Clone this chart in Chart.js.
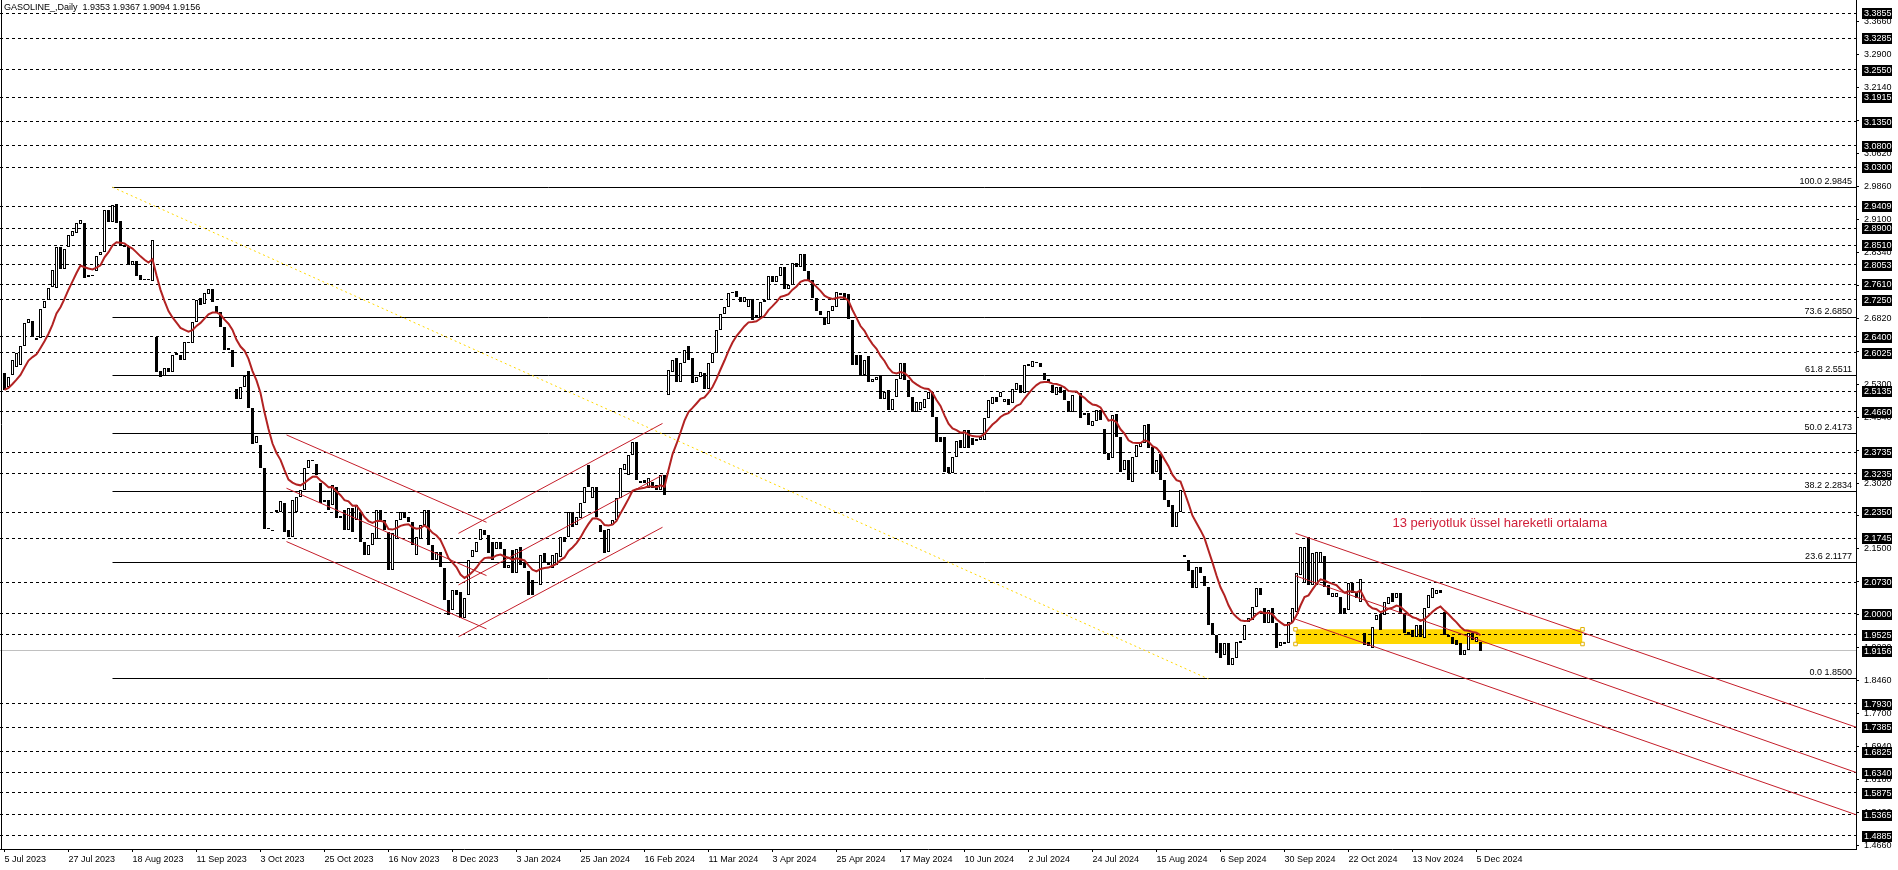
<!DOCTYPE html>
<html>
<head>
<meta charset="utf-8">
<title>GASOLINE_ Daily</title>
<script src="https://cdn.jsdelivr.net/npm/chart.js@4/dist/chart.umd.min.js"></script>
<style>
  html, body { margin: 0; padding: 0; background: #fff; }
  canvas { display: block; }
</style>
</head>
<body>
<canvas id="chart" width="1898" height="870"></canvas>
<script>
// daily bars, 5 Jul 2023 .. 6 Dec 2024 (bar 0 = 5 Jul 2023)
var opens = [
  2.555, 2.524, 2.551, 2.570, 2.574, 2.618, 2.672, 2.676, 2.633, 2.636,
  2.705, 2.724, 2.755, 2.751, 2.846, 2.796, 2.847, 2.873, 2.878, 2.900,
  2.903, 2.782, 2.779, 2.791, 2.827, 2.836, 2.932, 2.905, 2.946, 2.906,
  2.851, 2.849, 2.805, 2.814, 2.782, 2.772, 2.770, 2.769, 2.640, 2.561,
  2.550, 2.568, 2.559, 2.597, 2.597, 2.586, 2.626, 2.624, 2.674, 2.728,
  2.714, 2.738, 2.749, 2.710, 2.697, 2.663, 2.609, 2.610, 2.520, 2.495,
  2.523, 2.560, 2.474, 2.395, 2.390, 2.336, 2.198, 2.193, 2.236, 2.236,
  2.255, 2.194, 2.178, 2.236, 2.270, 2.286, 2.336, 2.352, 2.347, 2.301,
  2.262, 2.263, 2.251, 2.294, 2.226, 2.240, 2.194, 2.244, 2.217, 2.236,
  2.167, 2.136, 2.159, 2.174, 2.240, 2.217, 2.190, 2.101, 2.174, 2.217,
  2.236, 2.224, 2.213, 2.136, 2.174, 2.205, 2.240, 2.159, 2.124, 2.144,
  2.105, 2.032, 2.009, 2.055, 2.051, 1.990, 2.044, 2.132, 2.144, 2.170,
  2.194, 2.182, 2.167, 2.151, 2.167, 2.151, 2.107, 2.147, 2.094, 2.155,
  2.117, 2.098, 2.078, 2.071, 2.067, 2.140, 2.119, 2.105, 2.113, 2.132,
  2.178, 2.178, 2.236, 2.205, 2.221, 2.255, 2.344, 2.267, 2.294, 2.205,
  2.194, 2.143, 2.205, 2.217, 2.267, 2.332, 2.320, 2.367, 2.397, 2.306,
  2.309, 2.290, 2.305, 2.297, 2.286, 2.320, 2.505, 2.559, 2.590, 2.536,
  2.578, 2.617, 2.590, 2.536, 2.547, 2.555, 2.520, 2.578, 2.601, 2.655,
  2.693, 2.709, 2.743, 2.745, 2.732, 2.720, 2.709, 2.726, 2.690, 2.686,
  2.720, 2.724, 2.780, 2.765, 2.780, 2.800, 2.750, 2.760, 2.810, 2.800,
  2.830, 2.790, 2.770, 2.728, 2.700, 2.682, 2.670, 2.700, 2.709, 2.735,
  2.740, 2.738, 2.678, 2.597, 2.597, 2.551, 2.594, 2.536, 2.540, 2.551,
  2.497, 2.517, 2.470, 2.501, 2.541, 2.578, 2.540, 2.501, 2.467, 2.470,
  2.474, 2.497, 2.513, 2.455, 2.409, 2.409, 2.340, 2.325, 2.363, 2.401,
  2.382, 2.424, 2.405, 2.400, 2.401, 2.401, 2.451, 2.485, 2.501, 2.501,
  2.490, 2.497, 2.486, 2.517, 2.528, 2.509, 2.572, 2.570, 2.580, 2.580,
  2.555, 2.541, 2.528, 2.505, 2.524, 2.517, 2.492, 2.467, 2.509, 2.509,
  2.459, 2.464, 2.434, 2.444, 2.470, 2.426, 2.372, 2.359, 2.461, 2.409,
  2.331, 2.355, 2.305, 2.363, 2.386, 2.394, 2.438, 2.386, 2.328, 2.370,
  2.309, 2.263, 2.251, 2.201, 2.236, 2.136, 2.124, 2.101, 2.059, 2.109,
  2.087, 2.063, 1.978, 1.951, 1.934, 1.905, 1.932, 1.882, 1.898, 1.934,
  1.940, 1.982, 1.986, 2.017, 2.059, 2.013, 1.978, 2.013, 1.978, 1.925,
  1.931, 1.932, 1.982, 2.005, 2.090, 2.071, 2.178, 2.067, 2.067, 2.117,
  2.134, 2.067, 2.038, 2.040, 2.040, 2.013, 2.009, 2.072, 2.051, 2.028,
  1.955, 1.936, 1.921, 1.986, 1.999, 1.998, 2.024, 2.048, 2.036, 2.048,
  2.001, 1.959, 1.963, 1.948, 1.975, 1.944, 2.013, 2.036, 2.046, 2.055,
  2.005, 1.951, 1.948, 1.940, 1.932, 1.905, 1.917, 1.955, 1.936, 1.9353
];
var highs = [
  2.559, 2.555, 2.594, 2.609, 2.624, 2.680, 2.686, 2.684, 2.645, 2.710,
  2.732, 2.755, 2.799, 2.886, 2.853, 2.851, 2.894, 2.924, 2.915, 2.916,
  2.909, 2.801, 2.816, 2.830, 2.859, 2.947, 2.945, 2.9845, 2.952, 2.910,
  2.889, 2.864, 2.830, 2.864, 2.788, 2.793, 2.790, 2.892, 2.647, 2.563,
  2.586, 2.578, 2.601, 2.618, 2.655, 2.632, 2.655, 2.680, 2.728, 2.740,
  2.747, 2.770, 2.759, 2.728, 2.701, 2.667, 2.620, 2.647, 2.536, 2.530,
  2.560, 2.578, 2.480, 2.436, 2.395, 2.340, 2.221, 2.220, 2.278, 2.268,
  2.278, 2.240, 2.270, 2.290, 2.294, 2.340, 2.363, 2.378, 2.355, 2.310,
  2.270, 2.270, 2.300, 2.300, 2.247, 2.255, 2.263, 2.251, 2.260, 2.245,
  2.170, 2.165, 2.200, 2.247, 2.274, 2.220, 2.200, 2.190, 2.247, 2.255,
  2.244, 2.230, 2.220, 2.190, 2.210, 2.250, 2.274, 2.165, 2.155, 2.150,
  2.110, 2.040, 2.070, 2.062, 2.060, 2.040, 2.130, 2.163, 2.213, 2.210,
  2.217, 2.200, 2.200, 2.180, 2.175, 2.170, 2.155, 2.167, 2.167, 2.167,
  2.120, 2.105, 2.085, 2.130, 2.140, 2.194, 2.140, 2.190, 2.150, 2.182,
  2.190, 2.244, 2.247, 2.230, 2.270, 2.305, 2.350, 2.300, 2.300, 2.216,
  2.200, 2.200, 2.220, 2.270, 2.340, 2.360, 2.370, 2.413, 2.400, 2.324,
  2.336, 2.320, 2.336, 2.305, 2.330, 2.330, 2.570, 2.590, 2.600, 2.590,
  2.636, 2.624, 2.600, 2.560, 2.570, 2.560, 2.580, 2.610, 2.660, 2.700,
  2.720, 2.766, 2.766, 2.750, 2.747, 2.740, 2.740, 2.730, 2.700, 2.740,
  2.740, 2.790, 2.800, 2.790, 2.810, 2.805, 2.780, 2.820, 2.830, 2.850,
  2.845, 2.810, 2.780, 2.740, 2.770, 2.690, 2.700, 2.715, 2.750, 2.758,
  2.758, 2.740, 2.680, 2.620, 2.600, 2.590, 2.600, 2.566, 2.566, 2.560,
  2.520, 2.520, 2.500, 2.545, 2.580, 2.590, 2.545, 2.510, 2.513, 2.500,
  2.500, 2.520, 2.530, 2.460, 2.416, 2.415, 2.345, 2.370, 2.410, 2.420,
  2.430, 2.430, 2.420, 2.410, 2.415, 2.460, 2.500, 2.510, 2.520, 2.536,
  2.510, 2.520, 2.536, 2.563, 2.550, 2.578, 2.613, 2.594, 2.601, 2.620,
  2.564, 2.550, 2.535, 2.530, 2.540, 2.520, 2.500, 2.510, 2.520, 2.515,
  2.470, 2.470, 2.450, 2.480, 2.478, 2.430, 2.375, 2.460, 2.470, 2.410,
  2.360, 2.360, 2.370, 2.400, 2.405, 2.440, 2.440, 2.390, 2.374, 2.375,
  2.310, 2.270, 2.260, 2.240, 2.290, 2.170, 2.130, 2.105, 2.120, 2.132,
  2.090, 2.065, 1.980, 1.955, 1.940, 1.940, 1.940, 1.900, 1.945, 1.945,
  1.980, 2.000, 2.025, 2.067, 2.067, 2.020, 2.015, 2.020, 1.980, 1.940,
  1.945, 1.990, 2.028, 2.101, 2.163, 2.178, 2.182, 2.150, 2.160, 2.150,
  2.140, 2.070, 2.060, 2.055, 2.050, 2.020, 2.080, 2.090, 2.060, 2.086,
  1.960, 1.940, 1.975, 2.010, 2.005, 2.035, 2.050, 2.055, 2.060, 2.055,
  2.005, 1.965, 1.970, 1.980, 1.980, 2.020, 2.050, 2.065, 2.090, 2.070,
  2.010, 1.960, 1.955, 1.945, 1.935, 1.925, 1.960, 1.975, 1.960, 1.9367
];
var lows = [
  2.497, 2.463, 2.540, 2.563, 2.570, 2.614, 2.665, 2.636, 2.617, 2.630,
  2.690, 2.697, 2.750, 2.745, 2.767, 2.766, 2.840, 2.862, 2.855, 2.855,
  2.770, 2.713, 2.755, 2.770, 2.736, 2.832, 2.870, 2.900, 2.898, 2.845,
  2.840, 2.798, 2.790, 2.747, 2.760, 2.717, 2.724, 2.765, 2.547, 2.513,
  2.540, 2.532, 2.550, 2.590, 2.580, 2.555, 2.593, 2.620, 2.668, 2.705,
  2.705, 2.733, 2.713, 2.690, 2.655, 2.601, 2.601, 2.555, 2.490, 2.461,
  2.518, 2.470, 2.388, 2.390, 2.330, 2.190, 2.167, 2.175, 2.217, 2.225,
  2.185, 2.151, 2.170, 2.230, 2.265, 2.280, 2.330, 2.317, 2.310, 2.245,
  2.209, 2.217, 2.240, 2.210, 2.194, 2.182, 2.180, 2.182, 2.200, 2.160,
  2.117, 2.117, 2.150, 2.170, 2.163, 2.170, 2.086, 2.094, 2.170, 2.210,
  2.190, 2.200, 2.128, 2.109, 2.170, 2.200, 2.150, 2.120, 2.120, 2.086,
  2.013, 1.987, 2.000, 2.000, 1.971, 1.971, 2.040, 2.125, 2.140, 2.165,
  2.170, 2.117, 2.120, 2.140, 2.145, 2.090, 2.100, 2.067, 2.074, 2.100,
  2.090, 2.030, 2.040, 2.050, 2.060, 2.110, 2.100, 2.090, 2.074, 2.120,
  2.160, 2.170, 2.190, 2.190, 2.210, 2.250, 2.290, 2.236, 2.210, 2.170,
  2.120, 2.140, 2.200, 2.210, 2.260, 2.330, 2.310, 2.360, 2.300, 2.270,
  2.290, 2.280, 2.280, 2.247, 2.240, 2.270, 2.490, 2.550, 2.532, 2.532,
  2.570, 2.580, 2.517, 2.530, 2.540, 2.510, 2.510, 2.570, 2.595, 2.650,
  2.685, 2.700, 2.705, 2.720, 2.710, 2.710, 2.700, 2.670, 2.660, 2.680,
  2.710, 2.710, 2.755, 2.735, 2.770, 2.720, 2.740, 2.725, 2.790, 2.790,
  2.780, 2.760, 2.720, 2.680, 2.690, 2.640, 2.624, 2.690, 2.700, 2.725,
  2.720, 2.670, 2.570, 2.566, 2.545, 2.545, 2.528, 2.480, 2.520, 2.490,
  2.490, 2.463, 2.443, 2.495, 2.535, 2.530, 2.490, 2.460, 2.460, 2.445,
  2.470, 2.490, 2.450, 2.390, 2.390, 2.310, 2.310, 2.310, 2.360, 2.375,
  2.375, 2.370, 2.366, 2.390, 2.378, 2.380, 2.445, 2.480, 2.480, 2.495,
  2.480, 2.465, 2.467, 2.510, 2.500, 2.500, 2.560, 2.555, 2.555, 2.560,
  2.524, 2.530, 2.490, 2.500, 2.500, 2.490, 2.441, 2.460, 2.500, 2.440,
  2.417, 2.413, 2.425, 2.405, 2.440, 2.365, 2.328, 2.355, 2.400, 2.255,
  2.325, 2.300, 2.300, 2.343, 2.380, 2.390, 2.367, 2.320, 2.320, 2.300,
  2.251, 2.240, 2.178, 2.190, 2.230, 2.120, 2.090, 2.055, 2.047, 2.085,
  2.055, 1.970, 1.944, 1.900, 1.875, 1.900, 1.855, 1.850, 1.890, 1.930,
  1.935, 1.975, 1.980, 2.010, 2.035, 1.950, 1.970, 1.970, 1.905, 1.915,
  1.920, 1.878, 1.975, 2.000, 2.085, 2.065, 2.060, 2.060, 2.050, 2.110,
  2.050, 2.030, 2.000, 2.030, 1.990, 1.990, 2.000, 2.040, 2.020, 2.020,
  1.920, 1.890, 1.915, 1.980, 1.955, 1.990, 2.020, 2.020, 2.030, 1.990,
  1.950, 1.945, 1.940, 1.940, 1.940, 1.940, 2.005, 2.030, 2.040, 2.030,
  1.945, 1.940, 1.920, 1.920, 1.895, 1.898, 1.910, 1.930, 1.925, 1.9094
];
var closes = [
  2.517, 2.547, 2.586, 2.601, 2.617, 2.672, 2.680, 2.640, 2.636, 2.703,
  2.722, 2.751, 2.793, 2.847, 2.795, 2.843, 2.874, 2.883, 2.901, 2.909,
  2.776, 2.778, 2.782, 2.826, 2.836, 2.933, 2.905, 2.943, 2.903, 2.849,
  2.846, 2.805, 2.815, 2.780, 2.770, 2.771, 2.771, 2.863, 2.559, 2.547,
  2.567, 2.559, 2.597, 2.601, 2.586, 2.628, 2.628, 2.674, 2.724, 2.713,
  2.740, 2.750, 2.720, 2.697, 2.661, 2.609, 2.613, 2.570, 2.495, 2.524,
  2.550, 2.474, 2.392, 2.410, 2.336, 2.197, 2.196, 2.192, 2.240, 2.261,
  2.190, 2.178, 2.263, 2.270, 2.286, 2.336, 2.355, 2.355, 2.320, 2.255,
  2.259, 2.240, 2.297, 2.221, 2.221, 2.194, 2.244, 2.190, 2.251, 2.167,
  2.136, 2.159, 2.186, 2.240, 2.217, 2.194, 2.101, 2.186, 2.217, 2.236,
  2.221, 2.213, 2.159, 2.178, 2.205, 2.240, 2.159, 2.124, 2.144, 2.109,
  2.032, 1.997, 2.055, 2.044, 1.990, 2.036, 2.124, 2.147, 2.167, 2.197,
  2.182, 2.140, 2.124, 2.167, 2.151, 2.105, 2.113, 2.094, 2.151, 2.113,
  2.107, 2.044, 2.044, 2.074, 2.136, 2.120, 2.113, 2.136, 2.140, 2.178,
  2.167, 2.236, 2.201, 2.224, 2.255, 2.294, 2.294, 2.294, 2.224, 2.190,
  2.140, 2.197, 2.217, 2.267, 2.336, 2.347, 2.367, 2.397, 2.309, 2.301,
  2.301, 2.313, 2.290, 2.286, 2.320, 2.274, 2.563, 2.586, 2.536, 2.578,
  2.609, 2.586, 2.532, 2.547, 2.559, 2.520, 2.578, 2.601, 2.655, 2.693,
  2.709, 2.740, 2.741, 2.732, 2.720, 2.732, 2.726, 2.678, 2.685, 2.720,
  2.725, 2.780, 2.765, 2.780, 2.800, 2.750, 2.760, 2.810, 2.800, 2.830,
  2.790, 2.770, 2.728, 2.700, 2.690, 2.667, 2.700, 2.710, 2.743, 2.740,
  2.724, 2.680, 2.574, 2.574, 2.551, 2.586, 2.536, 2.541, 2.546, 2.497,
  2.513, 2.470, 2.497, 2.541, 2.578, 2.540, 2.501, 2.467, 2.489, 2.489,
  2.497, 2.513, 2.455, 2.397, 2.397, 2.328, 2.325, 2.363, 2.400, 2.382,
  2.424, 2.382, 2.390, 2.403, 2.409, 2.451, 2.493, 2.501, 2.490, 2.513,
  2.495, 2.482, 2.520, 2.532, 2.509, 2.574, 2.577, 2.584, 2.581, 2.570,
  2.540, 2.536, 2.509, 2.524, 2.509, 2.494, 2.467, 2.505, 2.514, 2.451,
  2.464, 2.436, 2.444, 2.470, 2.447, 2.370, 2.355, 2.459, 2.409, 2.328,
  2.355, 2.309, 2.363, 2.390, 2.394, 2.436, 2.382, 2.324, 2.355, 2.309,
  2.263, 2.247, 2.201, 2.236, 2.286, 2.132, 2.098, 2.059, 2.109, 2.094,
  2.064, 1.975, 1.951, 1.911, 1.898, 1.932, 1.882, 1.898, 1.936, 1.938,
  1.974, 1.990, 2.017, 2.059, 2.044, 1.978, 2.009, 1.978, 1.921, 1.936,
  1.936, 1.982, 2.013, 2.094, 2.155, 2.155, 2.067, 2.140, 2.144, 2.144,
  2.063, 2.044, 2.049, 2.049, 2.001, 2.001, 2.072, 2.048, 2.036, 2.080,
  1.928, 1.925, 1.971, 1.998, 1.963, 2.028, 2.040, 2.028, 2.048, 2.001,
  1.955, 1.951, 1.948, 1.975, 1.948, 2.013, 2.044, 2.059, 2.055, 2.048,
  1.951, 1.948, 1.931, 1.928, 1.905, 1.917, 1.955, 1.940, 1.948, 1.9156
];

// time axis: one label every 16 bars
var dateLabels = ['5 Jul 2023', '27 Jul 2023', '18 Aug 2023', '11 Sep 2023', '3 Oct 2023',
  '25 Oct 2023', '16 Nov 2023', '8 Dec 2023', '3 Jan 2024', '25 Jan 2024', '16 Feb 2024',
  '11 Mar 2024', '3 Apr 2024', '25 Apr 2024', '17 May 2024', '10 Jun 2024', '2 Jul 2024',
  '24 Jul 2024', '15 Aug 2024', '6 Sep 2024', '30 Sep 2024', '22 Oct 2024', '13 Nov 2024',
  '5 Dec 2024'];
var dateStep = 16;

// price scale ticks
var priceTickStart = 1.4660;
var priceTickStep = 0.0760;

// dashed horizontal levels (labelled in black boxes on the price axis)
var levels = [3.3855, 3.3285, 3.2550, 3.1915, 3.1350, 3.0800, 3.0300, 2.9409, 2.8900,
  2.8510, 2.8053, 2.7610, 2.7250, 2.6400, 2.6025, 2.5135, 2.4660, 2.3735, 2.3235,
  2.2350, 2.1745, 2.0730, 2.0000, 1.9525, 1.7930, 1.7385, 1.6825, 1.6340, 1.5875,
  1.5365, 1.4885];
var lastPrice = 1.9156;

// fibonacci retracement drawn from the high bar to the right edge
var fibRatios = ['100.0', '73.6', '61.8', '50.0', '38.2', '23.6', '0.0'];
var fibPrices = [2.9845, 2.6850, 2.5511, 2.4173, 2.2834, 2.1177, 1.8500];
var fibStartBar = 27;

// trend line of the fibonacci (high -> low), [bar, price, bar, price]
var fibTrend = [27, 2.9845, 301, 1.8500];

// price channels, each line is [bar, price, bar, price]
var channelAutumn = [[70.5, 2.413, 120.5, 2.2115], [70.5, 2.290, 120.5, 2.0885], [70.5, 2.167, 120.5, 1.9655]];
var channelWinter = [[113.5, 2.186, 164.5, 2.4395], [113.5, 2.067, 164.5, 2.3205], [113.5, 1.9475, 164.5, 2.200]];
var channelAutumn24 = [[322.75, 2.186, 463, 1.7385], [322.75, 2.088, 463, 1.6340], [322.75, 1.988, 463, 1.5365]];

// support zone rectangle [bar, bar, top, bottom]
var zone = [322.75, 394.5, 1.9646, 1.9307];

// note about the red line
var noteText = '13 periyotluk üssel hareketli ortalama';
var notePos = [347, 2.2083];

var emaPeriod = 13;

var xMin = -1.125, xMax = 462.875;
var yMin = 1.4578, yMax = 3.4163;

var AXIS_FONT = { family: '"Liberation Sans", Arial, sans-serif', size: 9 };
var FONT_CSS = '9px "Liberation Sans", Arial, sans-serif';

// 13 period exponential moving average of the closes
var ema = [];
var k = 2 / (emaPeriod + 1);
for (var i = 0; i < closes.length; i++) {
  ema.push(i === 0 ? closes[0] : ema[i - 1] + k * (closes[i] - ema[i - 1]));
}

var wickData = [], bodyData = [], emaData = [];
for (var i = 0; i < closes.length; i++) {
  var top = Math.max(highs[i], opens[i], closes[i]);
  var bot = Math.min(lows[i], opens[i], closes[i]);
  wickData.push({ x: i, y: [bot, top] });
  bodyData.push({ x: i, y: [opens[i], closes[i]] });
  emaData.push({ x: i, y: ema[i] });
}

function seg(a) {
  return [{ x: a[0], y: a[1] }, { x: a[2], y: a[3] }];
}

function lineSet(points, color, width, dash, order, flat) {
  return {
    type: 'line', data: points, borderColor: color, borderWidth: width,
    borderDash: dash || [], pointRadius: 0, pointHoverRadius: 0, fill: false, tension: 0,
    order: order, snapFlat: !!flat
  };
}

var datasets = [];

// yellow zone
datasets.push({
  type: 'line',
  data: [{ x: zone[0], y: zone[2] }, { x: zone[1], y: zone[2] }],
  borderWidth: 0, pointRadius: 0, pointHoverRadius: 0, backgroundColor: '#FFD700',
  fill: { value: zone[3] }, order: 20
});

levels.forEach(function (v) {
  datasets.push(lineSet(seg([xMin, v, xMax, v]), '#000', 1, [3, 3], 19, true));
});
datasets.push(lineSet(seg([xMin, lastPrice, xMax, lastPrice]), '#C0C0C0', 1, null, 19, true));

fibPrices.forEach(function (v) {
  datasets.push(lineSet(seg([fibStartBar, v, xMax, v]), '#000', 1, null, 18, true));
});

// candles: thin wick + 3px body
datasets.push({
  type: 'bar', data: wickData, backgroundColor: '#000', borderWidth: 0,
  barThickness: 1, maxBarThickness: 1, grouped: false, inflateAmount: 0, order: 10, snapBars: true
});
datasets.push({
  type: 'bar', data: bodyData,
  backgroundColor: function (ctx) {
    var j = ctx.dataIndex;
    return closes[j] >= opens[j] ? '#fff' : '#000';
  },
  borderColor: '#000', borderWidth: 1, borderSkipped: false, minBarLength: 1,
  barThickness: 3, maxBarThickness: 3, grouped: false, inflateAmount: 0, order: 9, snapBars: true
});

datasets.push(lineSet(seg(fibTrend), '#FFD700', 1, [2, 3], 6));

[channelAutumn, channelWinter, channelAutumn24].forEach(function (ch) {
  ch.forEach(function (ln) {
    datasets.push(lineSet(seg(ln), '#C41E2A', 1, null, 5));
  });
});

datasets.push(lineSet(emaData, '#B22222', 2, null, 4));

// rectangle selection handles
datasets.push({
  type: 'line', showLine: false,
  data: [{ x: zone[0], y: zone[2] }, { x: zone[0], y: zone[3] }, { x: zone[1], y: zone[2] }, { x: zone[1], y: zone[3] }],
  pointStyle: 'rect', pointRadius: 2.5, pointHoverRadius: 2.5, pointBackgroundColor: '#fff',
  pointBorderColor: '#E0B000', pointBorderWidth: 1, order: 1
});

var snapPlugin = {
  id: 'snap',
  afterDatasetsUpdate: function (chart) {
    chart.data.datasets.forEach(function (ds, di) {
      var meta = chart.getDatasetMeta(di);
      if (ds.snapBars) {
        meta.data.forEach(function (el) {
          el.y = Math.round(el.y);
          el.base = Math.round(el.base);
          if (Math.abs(el.y - el.base) < 1) el.base = el.y + 1;
        });
      } else if (ds.snapFlat) {
        meta.data.forEach(function (el) { el.y = Math.floor(el.y) + 0.5; });
      }
    });
  }
};

var textPlugin = {
  id: 'mtTexts',
  afterDraw: function (chart) {
    var ctx = chart.ctx, ys = chart.scales.y, xs = chart.scales.x, area = chart.chartArea;
    ctx.save();
    ctx.font = FONT_CSS;

    // title
    ctx.fillStyle = '#000';
    ctx.textAlign = 'left';
    ctx.textBaseline = 'middle';
    ctx.fillText('GASOLINE_,Daily  ' + opens[opens.length - 1].toFixed(4) + ' ' +
      highs[highs.length - 1].toFixed(4) + ' ' + lows[lows.length - 1].toFixed(4) + ' ' +
      closes[closes.length - 1].toFixed(4), area.left + 4, area.top + 8);

    // fibonacci labels
    ctx.textAlign = 'right';
    ctx.textBaseline = 'bottom';
    fibPrices.forEach(function (v, j) {
      var py = Math.floor(ys.getPixelForValue(v)) - 1;
      ctx.fillText(fibRatios[j] + ' ' + v.toFixed(4), area.right - 4, py);
    });

    // note
    ctx.font = '13px "Liberation Sans", Arial, sans-serif';
    ctx.fillStyle = '#D0203A';
    ctx.textAlign = 'left';
    ctx.textBaseline = 'middle';
    ctx.fillText(noteText, xs.getPixelForValue(notePos[0]), ys.getPixelForValue(notePos[1]));

    // frame
    ctx.strokeStyle = '#000';
    ctx.lineWidth = 1;
    ctx.beginPath();
    ctx.moveTo(area.left + 1.5, area.top);
    ctx.lineTo(area.left + 1.5, area.bottom);
    ctx.stroke();

    // boxed price labels
    ctx.font = FONT_CSS;
    ctx.textBaseline = 'middle';
    levels.concat([lastPrice]).forEach(function (v) {
      var py = Math.round(ys.getPixelForValue(v));
      ctx.fillStyle = '#000';
      ctx.fillRect(area.right + 6, py - 5, 30, 11);
      ctx.fillStyle = '#fff';
      ctx.fillText(v.toFixed(4), area.right + 8, py + 0.5);
    });
    ctx.restore();
  }
};

new Chart(document.getElementById('chart'), {
  type: 'bar',
  data: { datasets: datasets },
  options: {
    responsive: false,
    animation: false,
    events: [],
    layout: { padding: 0, autoPadding: false },
    plugins: { legend: { display: false }, tooltip: { enabled: false } },
    scales: {
      x: {
        type: 'linear', position: 'bottom', min: xMin, max: xMax, offset: false,
        grid: { drawOnChartArea: false, tickLength: 3, color: '#000', offset: false },
        border: { color: '#000' },
        ticks: {
          align: 'start', maxRotation: 0, autoSkip: false, padding: 2,
          font: AXIS_FONT, color: '#000',
          callback: function (v) { return dateLabels[Math.round(v / dateStep)] || ''; }
        },
        afterBuildTicks: function (scale) {
          scale.ticks = dateLabels.map(function (d, j) { return { value: j * dateStep }; });
        },
        afterFit: function (scale) {
          scale.height = 21;
          scale.paddingLeft = 0;
          scale.paddingRight = 0;
        }
      },
      y: {
        type: 'linear', position: 'right', min: yMin, max: yMax, beginAtZero: false,
        grid: { drawOnChartArea: false, tickLength: 3, color: '#000' },
        border: { color: '#000' },
        ticks: {
          padding: 5, font: AXIS_FONT, color: '#000',
          callback: function (v) { return Number(v).toFixed(4); }
        },
        afterBuildTicks: function (scale) {
          var t = [];
          for (var j = 0; priceTickStart + j * priceTickStep <= yMax; j++) {
            t.push({ value: +(priceTickStart + j * priceTickStep).toFixed(4) });
          }
          scale.ticks = t;
        },
        afterFit: function (scale) {
          scale.width = 42;
          scale.paddingTop = 0;
          scale.paddingBottom = 0;
        }
      }
    }
  },
  plugins: [snapPlugin, textPlugin]
});
</script>
</body>
</html>
